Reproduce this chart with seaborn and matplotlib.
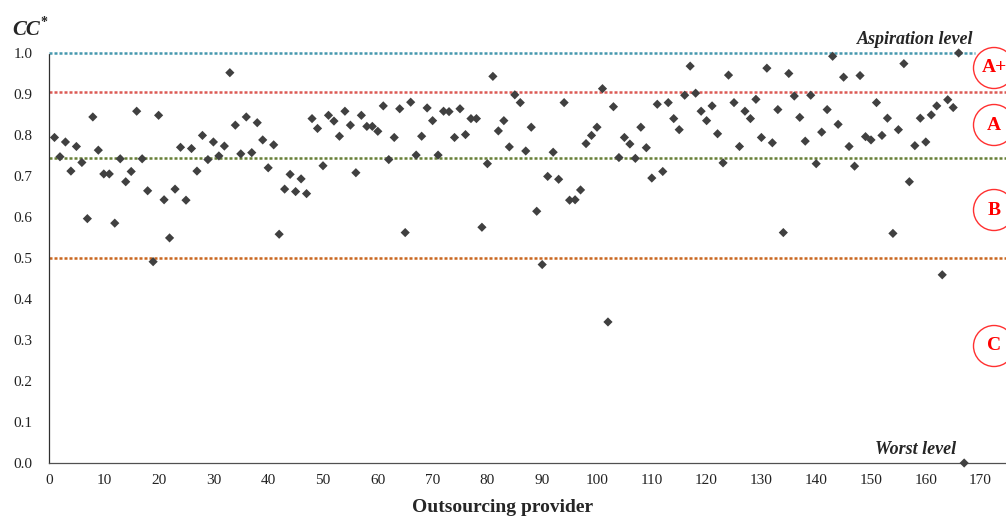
import matplotlib
matplotlib.use("Agg")
import matplotlib.pyplot as plt
from matplotlib.patches import Ellipse
import seaborn as sns
import pandas as pd

# ---- data ----
cc_values = [
    0.794, 0.747, 0.783, 0.712, 0.772, 0.733, 0.596, 0.844, 0.763, 0.705,
    0.705, 0.585, 0.742, 0.686, 0.711, 0.858, 0.742, 0.664, 0.491, 0.848,
    0.642, 0.549, 0.668, 0.770, 0.641, 0.767, 0.712, 0.799, 0.740, 0.783,
    0.749, 0.773, 0.952, 0.824, 0.754, 0.844, 0.757, 0.830, 0.788, 0.720,
    0.776, 0.558, 0.668, 0.704, 0.662, 0.693, 0.657, 0.840, 0.816, 0.725,
    0.848, 0.834, 0.797, 0.858, 0.824, 0.708, 0.848, 0.821, 0.821, 0.809,
    0.871, 0.740, 0.794, 0.864, 0.562, 0.880, 0.751, 0.797, 0.866, 0.835,
    0.751, 0.858, 0.857, 0.794, 0.864, 0.801, 0.840, 0.840, 0.575, 0.730,
    0.943, 0.810, 0.835, 0.771, 0.898, 0.879, 0.761, 0.819, 0.614, 0.484,
    0.699, 0.758, 0.692, 0.879, 0.641, 0.642, 0.666, 0.779, 0.799, 0.819,
    0.913, 0.344, 0.869, 0.745, 0.794, 0.778, 0.743, 0.819, 0.769, 0.695,
    0.875, 0.711, 0.879, 0.840, 0.813, 0.897, 0.968, 0.902, 0.858, 0.835,
    0.871, 0.803, 0.732, 0.946, 0.879, 0.772, 0.858, 0.840, 0.887, 0.794,
    0.963, 0.781, 0.862, 0.562, 0.950, 0.895, 0.843, 0.785, 0.897, 0.730,
    0.807, 0.862, 0.992, 0.826, 0.941, 0.772, 0.724, 0.945, 0.796, 0.788,
    0.879, 0.799, 0.841, 0.560, 0.813, 0.974, 0.686, 0.774, 0.841, 0.783,
    0.849, 0.871, 0.459, 0.886, 0.867, 1.000, 0.000,
]
providers = list(range(1, len(cc_values) + 1))

levels = [1.0, 0.905, 0.745, 0.5]
level_colors = ["#4598ae", "#dc5a55", "#667f35", "#c9661f"]

x_ticks = list(range(0, 171, 10))
y_ticks = [round(0.1 * i, 1) for i in range(11)]
grade_labels = ["A+", "A", "B", "C"]
grade_centers_px = [68, 125, 210, 346]

df = pd.DataFrame({"provider": providers, "cc": cc_values})

# ---- figure ----
sns.set_theme(style="white")
plt.rcParams["font.family"] = ["Liberation Serif", "DejaVu Serif"]

W, H = 1006, 516
fig = plt.figure(figsize=(W / 100, H / 100), dpi=100)
ax_left, ax_right, ax_top, ax_bottom = 49, 1006, 53, 463
ax = fig.add_axes([ax_left / W, (H - ax_bottom) / H,
                   (ax_right - ax_left) / W, (ax_bottom - ax_top) / H])

xmax = (ax_right - ax_left) / 5.48
ax.set_xlim(0, xmax)
ax.set_ylim(0, 1.0)

# threshold lines
for lvl, col in zip(levels, level_colors):
    xend = 169 if lvl == 1.0 else xmax
    ax.plot([0, xend], [lvl, lvl], color=col, lw=1.8,
            linestyle=(0, (1.2, 0.8)), clip_on=False, zorder=1)

sns.scatterplot(data=df, x="provider", y="cc", ax=ax, marker="D", s=22,
                color="#404040", edgecolor="none", zorder=3, clip_on=False,
                legend=False)

# spines
for s in ["top", "right"]:
    ax.spines[s].set_visible(False)
ax.spines["left"].set_linestyle((0, (1, 1)))
ax.spines["left"].set_color("#303030")
ax.spines["left"].set_linewidth(0.9)
ax.spines["bottom"].set_linestyle((0, (1, 1)))
ax.spines["bottom"].set_color("#505050")
ax.spines["bottom"].set_linewidth(0.9)

ax.set_xticks(x_ticks)
ax.set_xticklabels([str(t) for t in x_ticks])
ax.set_yticks(y_ticks)
ax.set_yticklabels([f"{t:.1f}" for t in y_ticks])
ax.tick_params(axis="both", length=0, labelsize=11, colors="#222222")
ax.tick_params(axis="x", pad=8)
ax.tick_params(axis="y", pad=12)
ax.set_xlabel("")
ax.set_ylabel("")

# texts
fig.text(12 / W, 1 - 30 / H, "CC",
         fontsize=15, fontweight="bold", fontstyle="italic",
         ha="left", va="center")
fig.text(40 / W, 1 - 22 / H, "*", fontsize=10, fontweight="bold",
         ha="left", va="center")
fig.text(503 / W, 1 - 507 / H, "Outsourcing provider", fontsize=14,
         fontweight="bold", ha="center", va="center")
fig.text(915 / W, 1 - 40 / H, "Aspiration level", fontsize=13,
         fontweight="bold", fontstyle="italic", ha="center", va="center")
fig.text(916 / W, 1 - 449 / H, "Worst level", fontsize=13,
         fontweight="bold", fontstyle="italic", ha="center", va="center")

r = 20.5
cx = 994
for lab, cy in zip(grade_labels, grade_centers_px):
    e = Ellipse((cx / W, 1 - cy / H), 2 * r / W, 2 * r / H,
                transform=fig.transFigure, fill=False, edgecolor="#ff3030",
                lw=1.0)
    fig.add_artist(e)
    fig.text(cx / W, 1 - cy / H, lab, fontsize=14, fontweight="bold",
             color="#ff0000", ha="center", va="center")

fig.savefig("out.png", dpi=100)
